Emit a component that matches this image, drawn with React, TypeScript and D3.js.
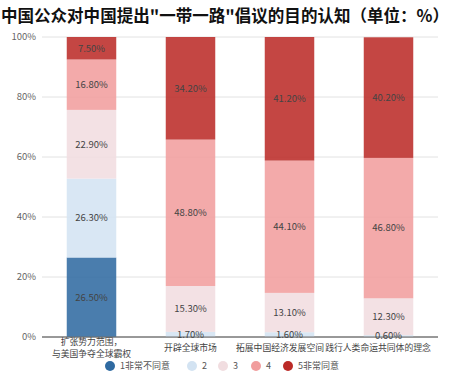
import React from "react";
import * as d3 from "d3";

const categories = ["扩张势力范围，\n与美国争夺全球霸权", "开辟全球市场", "拓展中国经济发展空间", "践行人类命运共同体的理念"];
const seriesNames = ["1非常不同意", "2", "3", "4", "5非常同意"];
const s1 = [26.5, 0, 0, 0];
const s2 = [26.3, 1.7, 1.6, 0.6];
const s3 = [22.9, 15.3, 13.1, 12.3];
const s4 = [16.8, 48.8, 44.1, 46.8];
const s5 = [7.5, 34.2, 41.2, 40.2];
const yTicks = [0, 20, 40, 60, 80, 100];
const colors = ["#2f6aa1", "#d3e3f2", "#f1dde0", "#f19d9d", "#bb2a27"];

const W = 451, H = 384;
const margin = { left: 42, right: 13, top: 37, bottom: 47 };

export default function App() {
  const series = [s1, s2, s3, s4, s5];
  const x = d3.scaleBand().domain(categories).range([margin.left, W - margin.right]).paddingInner(0.5).paddingOuter(0.25);
  const y = d3.scaleLinear().domain([0, 100]).range([H - margin.bottom, margin.top]);
  const rows = categories.map((c, i) => {
    const r: any = { cat: c };
    seriesNames.forEach((s, k) => (r[s] = series[k][i]));
    return r;
  });
  const stacked = d3.stack().keys(seriesNames)(rows);
  const font = "'Noto Sans CJK SC', 'Noto Sans', sans-serif";
  const legendX = [110, 192, 223, 256, 288];
  const labelShift = [0, 0, -9.5, -10.5];
  return (
    <svg width={W} height={H} style={{ position: "absolute", left: 0, top: 0, fontFamily: font }}>
      <text x={1} y={22} fontSize={16.5} fontWeight={700} fill="#111" textLength={448} lengthAdjust="spacingAndGlyphs">中国公众对中国提出"一带一路"倡议的目的认知（单位：%）</text>
      {yTicks.map((t) => (
        <g key={t}>
          <line x1={margin.left} x2={W - margin.right} y1={y(t)} y2={y(t)} stroke={t === 0 ? "#777" : "#e2e2e2"} strokeWidth={1} />
          <text x={36} y={y(t)} dy="0.35em" textAnchor="end" fontSize={9.5} fill="#666">{t}%</text>
        </g>
      ))}
      {stacked.map((layer, k) => (
        <g key={k}>
          {layer.map((d, i) => {
            const v = series[k][i];
            if (v <= 0) return null;
            const x0 = x(categories[i])!;
            return <rect key={i} x={x0} width={x.bandwidth()} y={y(d[1])} height={y(d[0]) - y(d[1])} fill={colors[k]} fillOpacity={0.87} />;
          })}
        </g>
      ))}
      <line x1={margin.left} x2={W - margin.right} y1={y(0)} y2={y(0)} stroke="#777" strokeWidth={1} />
      {stacked.map((layer, k) => (
        <g key={"l" + k}>
          {layer.map((d, i) => {
            const v = series[k][i];
            if (v <= 0) return null;
            const x0 = x(categories[i])!;
            return (
              <text key={i} x={x0 + x.bandwidth() / 2} y={(y(d[0]) + y(d[1])) / 2} dy="0.35em" textAnchor="middle" fontSize={9.5} fill="#444">{v.toFixed(2)}%</text>
            );
          })}
        </g>
      ))}
      {categories.map((c, i) => {
        const lines = c.split("\n");
        const cx = x(c)! + x.bandwidth() / 2 + labelShift[i];
        return (
          <text key={c} x={cx} y={lines.length > 1 ? 345 : 351} textAnchor="middle" fontSize={8.8} fill="#444">
            {lines.map((l, j) => (
              <tspan key={j} x={cx} dy={j === 0 ? 0 : 12}>{l}</tspan>
            ))}
          </text>
        );
      })}
      {seriesNames.map((s, k) => (
        <g key={s}>
          <circle cx={legendX[k]} cy={366} r={5} fill={colors[k]} />
          <text x={legendX[k] + 10} y={366} dy="0.35em" fontSize={9} fill="#555">{s}</text>
        </g>
      ))}
    </svg>
  );
}
